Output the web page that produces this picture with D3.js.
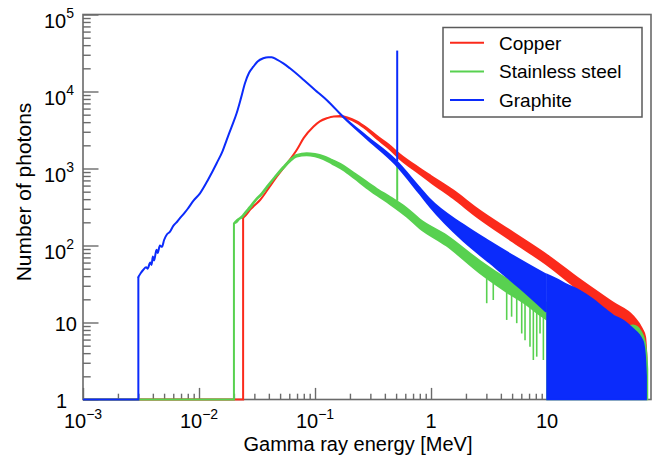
<!DOCTYPE html>
<html>
<head>
<meta charset="utf-8">
<script src="https://cdn.jsdelivr.net/npm/d3@7"></script>
<style>
  body { margin: 0; background: #fff; }
  svg { display: block; font-family: "Liberation Sans", Arial, Helvetica, sans-serif; }
</style>
</head>
<body>
<svg id="chart" width="662" height="466"></svg>
<script>
// ---- Spectra (energy in MeV, counts per bin) ----
// Copper
const redE  = [0.024, 0.026, 0.0275, 0.030, 0.0336, 0.040, 0.0468, 0.057, 0.0695, 0.080, 0.0967, 0.110, 0.126, 0.145, 0.164, 0.190, 0.229, 0.280, 0.340, 0.430, 0.540, 0.800, 1.00, 1.56, 2.50, 5.10, 10.4, 19.2, 37.0, 55.6, 66.0, 70.0, 72.0];
const redHi = [228, 260, 290, 330, 390, 560, 783, 1150, 1740, 2500, 3490, 4100, 4490, 4750, 4800, 4600, 4100, 3350, 2650, 2050, 1520, 1000, 800, 516, 300, 147, 72, 36, 18.1, 11.9, 8.2, 6.5, 3.5];
const redLo = [228, 260, 290, 330, 390, 560, 783, 1150, 1740, 2500, 3490, 4100, 4490, 4720, 4720, 4480, 3950, 3180, 2450, 1850, 1330, 850, 660, 410, 235, 112, 54, 26, 13, 8.3, 5.5, 4.2, 2.5];

// Stainless steel
const greenE  = [0.020, 0.021, 0.022, 0.0235, 0.025, 0.0275, 0.031, 0.0345, 0.0384, 0.045, 0.0534, 0.061, 0.0695, 0.0848, 0.100, 0.118, 0.140, 0.175, 0.220, 0.279, 0.350, 0.444, 0.617, 0.800, 1.36, 2.64, 4.49, 6.68, 8.70, 9.90];
const greenHi = [194, 210, 222, 240, 270, 319, 400, 470, 580, 780, 1055, 1300, 1500, 1580, 1540, 1450, 1290, 1090, 860, 670, 530, 425, 305, 218, 135, 63, 37, 27, 20.5, 18];
const greenLo = [194, 200, 218, 232, 262, 305, 390, 455, 560, 760, 1010, 1240, 1430, 1490, 1440, 1330, 1160, 960, 740, 560, 440, 345, 238, 168, 100, 44, 25, 17, 12.5, 11];
const greenDipE = [3.02, 3.44, 4.49, 4.95, 5.48, 6.05, 6.46, 7.13, 7.62, 8.15, 8.70, 9.30];
const greenDipN = [17.8, 19.6, 10.8, 11.9, 9.8, 7.2, 5.9, 4.85, 3.26, 3.6, 7.2, 3.26];
const greenTailE = [10, 15, 20, 30, 40, 50, 55, 60, 65, 70, 72, 73.5];
const greenTailN = [16, 13, 11.5, 9.5, 8.5, 9.0, 9.2, 8.8, 7.5, 5.5, 4.0, 2.5];

// Graphite
const blueE  = [0.003, 0.00315, 0.0033, 0.0035, 0.0036, 0.0038, 0.0039, 0.0040, 0.0041, 0.0043, 0.0044, 0.0046, 0.0048, 0.0050, 0.0053, 0.0056, 0.0060, 0.0065, 0.0070, 0.0075, 0.0080, 0.0090, 0.0102, 0.0120, 0.0142, 0.0160, 0.0173, 0.0190, 0.0211, 0.0230, 0.0249, 0.0270, 0.0294, 0.0320, 0.0358, 0.0395, 0.0423, 0.0470, 0.0533, 0.0608, 0.080, 0.100, 0.126, 0.175, 0.279, 0.490, 0.800, 0.980, 1.90, 3.20, 5.85, 9.75];
const blueHi = [39, 44, 48, 52, 50, 60, 56, 72, 64, 88, 80, 100, 96, 118, 140, 150, 180, 205, 235, 265, 300, 385, 476, 720, 1170, 1700, 2340, 3400, 5210, 8200, 12800, 17500, 21000, 24500, 27000, 27900, 27800, 26000, 23200, 20000, 14100, 10470, 7760, 4710, 2600, 1300, 560, 395, 185, 112, 65, 42];
const blueLo = [39, 44, 48, 52, 50, 60, 56, 72, 64, 88, 80, 100, 96, 118, 140, 150, 180, 205, 235, 265, 300, 385, 476, 720, 1170, 1700, 2340, 3400, 5210, 8200, 12800, 17500, 21000, 24500, 27000, 27900, 27800, 26000, 23200, 20000, 14100, 10470, 7760, 4650, 2450, 1150, 470, 320, 115, 60, 28, 14];
const blueTailE = [10, 12, 15, 19.2, 25, 30, 37, 46, 55.6, 62, 66, 68, 70, 71.5];
const blueTailN = [42, 37, 31, 26, 20, 16, 12.5, 10.5, 8.2, 7.0, 6.0, 5.3, 3.8, 2.0];

// Annihilation line at 511 keV: [energy, foot, peak]
const blueLine  = [0.511, 1250, 34000];
const greenLine = [0.511, 380, 1150];

// Axes and legend text
const xMajor = [1e-3, 1e-2, 1e-1, 1, 10];
const xLabelBase = ["10", "10", "10", "1", "10"];
const xLabelExp  = ["\u22123", "\u22122", "\u22121", "", ""];
const yMajor = [1, 10, 1e2, 1e3, 1e4, 1e5];
const yLabelBase = ["1", "10", "10", "10", "10", "10"];
const yLabelExp  = ["", "", "2", "3", "4", "5"];
const seriesNames = ["Copper", "Stainless steel", "Graphite"];
const seriesColors = ["#fb2a1b", "#58d150", "#0b2bfb"];
const xTitle = "Gamma ray energy [MeV]";
const yTitle = "Number of photons";

// ---- Layout ----
const svg = d3.select("#chart");
const X0 = 83, X1 = 651.8, Y0 = 399.5, Y1 = 14.5;
const x = d3.scaleLog().domain([1e-3, 80]).range([X0, X1]);
const y = d3.scaleLog().domain([1, 1e5]).range([Y0, Y1]).clamp(true);
const axisColor = "#6a6a6a";

function minorTicks(lo, hi) {
  const out = [];
  for (let d = Math.floor(Math.log10(lo)); d <= Math.ceil(Math.log10(hi)); d++) {
    for (let k = 2; k <= 9; k++) {
      const v = k * Math.pow(10, d);
      if (v > lo && v < hi) out.push(v);
    }
  }
  return out;
}

// Axis ticks (drawn inside the frame)
function styleAxis(g) {
  g.select(".domain").remove();
  g.selectAll(".tick line").attr("stroke", axisColor).attr("stroke-width", 1.4);
  g.selectAll(".tick text").remove();
}
svg.append("g").attr("transform", `translate(0,${Y0})`)
  .call(d3.axisBottom(x).tickValues(xMajor).tickSize(-11.6).tickSizeOuter(0).tickFormat(""))
  .call(styleAxis);
svg.append("g").attr("transform", `translate(0,${Y0})`)
  .call(d3.axisBottom(x).tickValues(minorTicks(1e-3, 80)).tickSize(-5.8).tickSizeOuter(0).tickFormat(""))
  .call(styleAxis);
svg.append("g").attr("transform", `translate(${X0},0)`)
  .call(d3.axisLeft(y).tickValues(yMajor).tickSize(-15.5).tickSizeOuter(0).tickFormat(""))
  .call(styleAxis);
svg.append("g").attr("transform", `translate(${X0},0)`)
  .call(d3.axisLeft(y).tickValues(minorTicks(1, 1e5)).tickSize(-7.7).tickSizeOuter(0).tickFormat(""))
  .call(styleAxis);

// Frame
svg.append("rect")
  .attr("x", X0).attr("y", Y1).attr("width", X1 - X0 - 0.8).attr("height", Y0 - Y1)
  .attr("fill", "none").attr("stroke", axisColor).attr("stroke-width", 1.6);

// Tick labels
const xl = svg.append("g").attr("font-size", 20).attr("fill", "#000").attr("text-anchor", "middle");
xMajor.forEach((v, i) => {
  const t = xl.append("text").attr("x", x(v)).attr("y", 428);
  t.append("tspan").text(xLabelBase[i]);
  if (xLabelExp[i]) t.append("tspan").attr("dy", -9.5).attr("font-size", 14).text(xLabelExp[i]);
});
const yl = svg.append("g").attr("font-size", 20).attr("fill", "#000").attr("text-anchor", "end");
yMajor.forEach((v, i) => {
  const hasExp = yLabelExp[i] !== "";
  const ax = hasExp ? 74 : (yLabelBase[i] === "1" ? 67 : 77);
  const t = yl.append("text").attr("x", ax).attr("y", y(v) + (hasExp ? 13 : 8.5));
  t.append("tspan").text(yLabelBase[i]);
  if (hasExp) t.append("tspan").attr("dy", -9.5).attr("font-size", 14).text(yLabelExp[i]);
});

// Axis titles
svg.append("text").attr("x", 358).attr("y", 451).attr("text-anchor", "middle")
  .attr("font-size", 20).text(xTitle);
svg.append("text").attr("transform", "translate(31,192) rotate(-90)").attr("text-anchor", "middle")
  .attr("font-size", 21).text(yTitle);

// ---- Spectra ----
const plot = svg.append("g");
const line = d3.line().x(d => x(d[0])).y(d => y(d[1]));
const band = d3.area().x(d => x(d[0])).y0(d => y(d[2])).y1(d => y(d[1])).curve(d3.curveMonotoneX);
const filled = d3.area().x(d => x(d[0])).y0(y(1)).y1(d => y(d[1])).curve(d3.curveMonotoneX);

function drawSeries(color, E, hi, lo, opts) {
  // empty bins along the floor, then the rising edge
  plot.append("path")
    .attr("d", line([[1e-3, 1], [E[0], 1], [E[0], hi[0]]]))
    .attr("fill", "none").attr("stroke", color).attr("stroke-width", 2);
  plot.append("path")
    .attr("d", band(E.map((e, i) => [e, hi[i], lo[i]])))
    .attr("fill", color).attr("stroke", color).attr("stroke-width", 2).attr("stroke-linejoin", "round");
  if (opts.dips) {
    const loAt = d3.scaleLog().domain(E).range(lo);
    opts.dips[0].forEach((e, i) => {
      plot.append("path")
        .attr("d", line([[e, opts.dips[1][i]], [e, loAt(e)]]))
        .attr("stroke", color).attr("stroke-width", 1.6);
    });
  }
  if (opts.spike) {
    plot.append("path")
      .attr("d", line([[opts.spike[0], opts.spike[1]], [opts.spike[0], opts.spike[2]]]))
      .attr("stroke", color).attr("stroke-width", 2);
  }
  if (opts.tail) {
    plot.append("path")
      .attr("d", filled(opts.tail[0].map((e, i) => [e, opts.tail[1][i]])))
      .attr("fill", color).attr("stroke", color).attr("stroke-width", 1.5);
  } else {
    const n = E.length - 1;
    plot.append("path")
      .attr("d", line([[E[n], lo[n]], [E[n], 1]]))
      .attr("stroke", color).attr("stroke-width", 2);
  }
}

drawSeries(seriesColors[0], redE, redHi, redLo, {});
drawSeries(seriesColors[1], greenE, greenHi, greenLo,
  { dips: [greenDipE, greenDipN], spike: greenLine, tail: [greenTailE, greenTailN] });
drawSeries(seriesColors[2], blueE, blueHi, blueLo,
  { spike: blueLine, tail: [blueTailE, blueTailN] });

// ---- Legend ----
const lg = svg.append("g");
lg.append("rect").attr("x", 443).attr("y", 27.5).attr("width", 199).attr("height", 89.5)
  .attr("fill", "#fff").attr("stroke", "#5a5a5a").attr("stroke-width", 1.5);
seriesNames.forEach((name, i) => {
  const ly = 42.7 + i * 28.7;
  lg.append("line").attr("x1", 450).attr("x2", 484).attr("y1", ly).attr("y2", ly)
    .attr("stroke", seriesColors[i]).attr("stroke-width", 2);
  lg.append("text").attr("x", 499).attr("y", ly + 6.8).attr("font-size", 19).text(name);
});
</script>
</body>
</html>
